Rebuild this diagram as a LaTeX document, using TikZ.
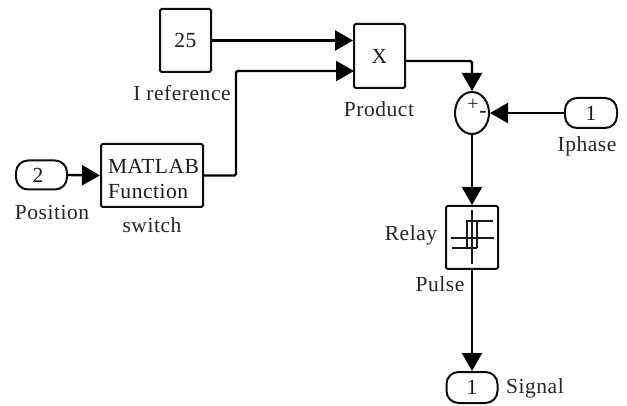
\documentclass[tikz,border=0pt]{standalone}
\usepackage{fontspec}
\setmainfont[LetterSpace=2.5]{Liberation Serif}
\usetikzlibrary{arrows.meta,shapes.geometric}
\tikzset{
 x=1pt,y=-1pt,
 block/.style={draw=black!95,line width=2pt,rounded corners=1.5pt,inner sep=0pt,text=black!90,font=\fontsize{21.5}{25}\selectfont},
 port/.style={block,rounded corners=12pt},
 lbl/.style={inner sep=0pt,text=black!85,font=\fontsize{21.5}{25}\selectfont},
 wire/.style={draw=black,line width=2.4pt,-{Triangle[length=18pt,width=20pt]},rounded corners=1.5pt},
 icon/.style={draw=black!90,line width=2pt}
}
\begin{document}
\begin{tikzpicture}
\useasboundingbox (0,0) rectangle (627,406);
\node[block,minimum width=51pt,minimum height=63pt] (ref) at (185.5,40.5) {25};
\node[lbl] (reflbl) at (182,93) {I reference};
\node[block,minimum width=51pt,minimum height=64pt] (prod) at (379.5,56) {X};
\node[lbl] (prodlbl) at (379,109) {Product};
\node[port,minimum width=51pt,minimum height=29pt] (pos) at (41.5,175) {\hspace*{-7pt}2};
\node[lbl] (poslbl) at (52,212) {Position};
\node[block,minimum width=102pt,minimum height=63pt,text width=102pt,align=left] (fn) at (152,175.5) {\rule{0pt}{21pt}\hspace*{7pt}MATLAB\\[-0.5pt]\hspace*{7pt}Function};
\node[lbl] (fnlbl) at (152,225) {switch};
\node[block,ellipse,minimum width=34pt,minimum height=42pt] (sum) at (472,113) {};
\node[lbl,font=\fontsize{20}{20}\selectfont] (plus) at (473,105) {+};
\node[lbl,font=\fontsize{22}{22}\selectfont\bfseries] (minus) at (483,114) {-};
\node[port,minimum width=52pt,minimum height=30pt] (iph) at (591,113) {1};
\node[lbl] (iphlbl) at (587,146) {Iphase};
\node[block,minimum width=52pt,minimum height=63pt] (relay) at (472,237.5) {};
\node[lbl] (relaylbl) at (411,235) {Relay};
\node[lbl] (pulselbl) at (440,284) {Pulse};
\node[port,minimum width=51pt,minimum height=31pt] (sig) at (472,387.5) {1};
\node[lbl] (siglbl) at (535,388) {Signal};
\coordinate (in1) at (prod.west |- ref.east);
\coordinate (in2) at (354,71);
\coordinate (out) at (prod.east |- 0,61);
\coordinate (bend1) at (236,175.5);
\coordinate (bend2) at (236,71);
\coordinate (bend3) at (472,61);
\draw[wire] (ref.east) -- (in1);
\draw[wire] (fn.east) -- (bend1) -- (bend2) -- (in2);
\draw[wire] (pos.east) -- (fn.west);
\draw[wire] (out) -- (bend3) -- (sum.north);
\draw[wire] (iph.west) -- (sum.east);
\draw[wire] (sum.south) -- (relay.north);
\draw[wire] (relay.south) -- (sig.north);
\draw[icon] (472,210) -- (472,264);
\draw[icon] (451,238) -- (494,238);
\draw[icon] (493,221) -- (467,221) -- (467,248) -- (452,248);
\draw[icon] (477,248) -- (477,221);
\draw[icon] (467,248) -- (477,248);
\end{tikzpicture}
\end{document}
